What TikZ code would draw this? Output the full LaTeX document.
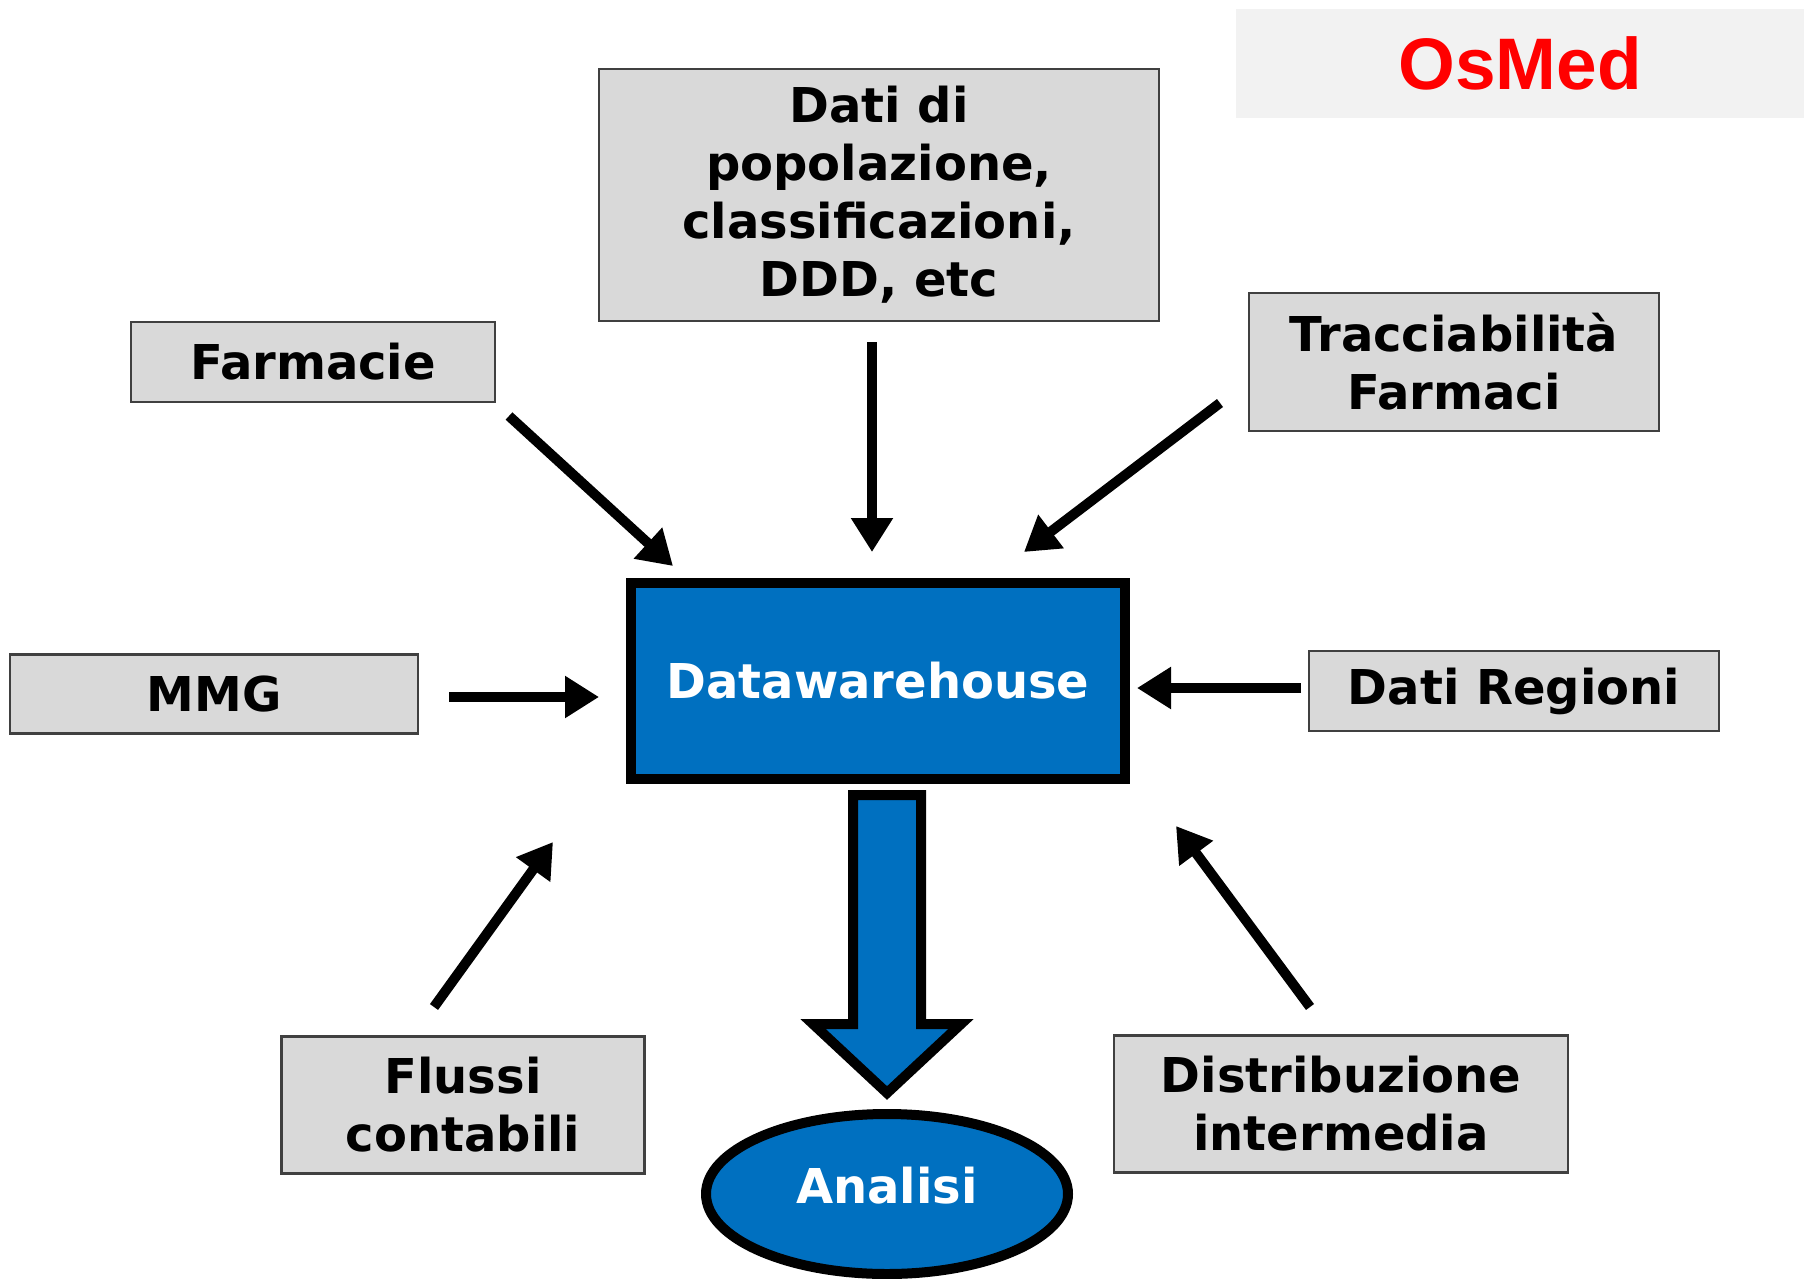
\documentclass[tikz,border=0pt]{standalone}
\usepackage{fontspec}
\setmainfont{DejaVu Sans}
\newfontfamily\osmedfont{Liberation Sans}
\usetikzlibrary{arrows.meta,shapes.geometric}
\definecolor{dwblue}{HTML}{0070C0}
\definecolor{boxgray}{HTML}{D9D9D9}
\definecolor{osmedbg}{HTML}{F2F2F2}

\begin{document}
\begin{tikzpicture}[x=1pt, y=-1pt,
	fonte/.style={draw=black!75, line width=2.5pt, fill=boxgray, inner sep=0pt, align=center, font=\bfseries\fontsize{48}{58}\selectfont},
	blu/.style={draw=black, fill=dwblue, text=white, inner sep=0pt, font=\bfseries\fontsize{48}{58}\selectfont},
	freccia/.style={line width=10pt, -{Triangle[length=34pt,width=40pt]}}]
			%%%%% START %%%%%
			
			\useasboundingbox (0,0) rectangle (1804,1279);
			\fill[white] (0,0) rectangle (1804,1279);
			
			\node[fill=osmedbg, text=red, minimum width=568, minimum height=109, font=\osmedfont\bfseries\fontsize{73}{80}\selectfont] (osmed) at (1520,63.5) {OsMed};
			
			%%%%% fonti %%%%%
			\node[fonte, minimum width=560, minimum height=252] (dati) at (879,195) {Dati di\\popolazione,\\classificazioni,\\DDD, etc};
			\node[fonte, minimum width=364, minimum height=80] (farm) at (313,362) {Farmacie};
			\node[fonte, minimum width=410, minimum height=138] (tracc) at (1454,362) {Tracciabilità\\Farmaci};
			\node[fonte, minimum width=408, minimum height=79] (mmg) at (214,694) {MMG};
			\node[fonte, minimum width=410, minimum height=80] (reg) at (1514,691) {Dati Regioni};
			\node[fonte, minimum width=363, minimum height=137] (flussi) at (463,1105) {Flussi\\contabili};
			\node[fonte, minimum width=454, minimum height=137] (distr) at (1341,1104) {Distribuzione\\intermedia};
			
			%%%%% datawarehouse e analisi %%%%%
			\node[blu, line width=9.5pt, minimum width=494, minimum height=196] (dw) at (878,681) {Datawarehouse};
			\node[blu, ellipse, line width=10pt, minimum width=362, minimum height=160] (an) at (887,1194) {\raisebox{18pt}{Analisi}};
			
			\draw[line width=10pt, fill=dwblue, line join=miter] (853,795) -- (921,795) -- (921,1024) -- (961,1024) -- (887,1093) -- (813,1024) -- (853,1024) -- cycle;
			
			%%%%% frecce %%%%%
			\coordinate (farm-s) at (509,416);
			\coordinate (farm-e) at (673,566);
			\coordinate (dati-s) at (872,342);
			\coordinate (dati-e) at (872,552);
			\coordinate (tracc-s) at (1220,403);
			\coordinate (tracc-e) at (1024,552);
			\coordinate (mmg-s) at (449,697);
			\coordinate (mmg-e) at (599,697);
			\coordinate (reg-s) at (1301,688);
			\coordinate (reg-e) at (1137,688);
			\coordinate (flussi-s) at (434,1007);
			\coordinate (flussi-e) at (553,842);
			\coordinate (distr-s) at (1310,1007);
			\coordinate (distr-e) at (1176,826);
			
			\draw[freccia] (farm-s) -- (farm-e);
			\draw[freccia] (dati-s) -- (dati-e);
			\draw[freccia] (tracc-s) -- (tracc-e);
			\draw[freccia] (mmg-s) -- (mmg-e);
			\draw[freccia] (reg-s) -- (reg-e);
			\draw[freccia] (flussi-s) -- (flussi-e);
			\draw[freccia] (distr-s) -- (distr-e);
			
			%%%%% END %%%%%
\end{tikzpicture}
\end{document}
